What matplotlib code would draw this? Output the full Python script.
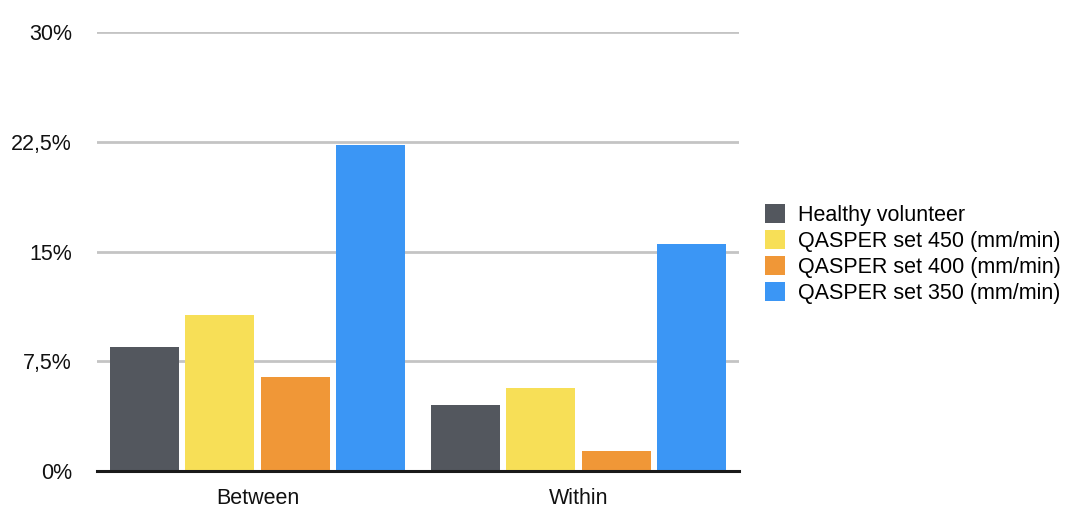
import matplotlib.pyplot as plt
import numpy as np

# ============================================================================ #
# DATA
# ============================================================================ #
groups = ["Between", "Within"]
series = ["Healthy volunteer", "QASPER set 450 (mm/min)",
          "QASPER set 400 (mm/min)", "QASPER set 350 (mm/min)"]
healthy = [8.5, 4.5]
set_450 = [10.65, 5.7]
set_400 = [6.45, 1.35]
set_350 = [22.25, 15.5]
y_ticks = [0, 7.5, 15, 22.5, 30]
y_tick_labels = ["0%", "7,5%", "15%", "22,5%", "30%"]

colours = ["#53575E", "#F7DF57", "#F09737", "#3B96F5"]

plt.rcParams["font.family"] = ["Liberation Sans", "DejaVu Sans"]


# ============================================================================ #
# PLOT
# ============================================================================ #
fig = plt.figure(figsize=(10.82, 5.26), dpi=100)
ax = fig.add_axes([97 / 1082, 1 - 471 / 526, 642 / 1082, 439 / 526])

x = np.arange(len(groups))
step = 0.235
width = 0.215
for i, (vals, name, col) in enumerate(zip([healthy, set_450, set_400, set_350],
                                          series, colours)):
    ax.bar(x + (i - 1.5) * step, vals, width, color=col, label=name, zorder=3)

ax.set_xlim(-0.5, 1.5)
ax.set_ylim(0, 30)
ax.set_yticks(y_ticks)
ax.set_yticklabels(y_tick_labels)
ax.set_xticks(x)
ax.set_xticklabels(groups)
ax.yaxis.grid(True, color="#C4C4C4", linewidth=2, zorder=0)
ax.tick_params(axis="both", length=0, labelsize=15.5, colors="#111111")
ax.tick_params(axis="y", pad=18)
ax.tick_params(axis="x", pad=12)
for side in ["top", "right", "left"]:
    ax.spines[side].set_visible(False)
ax.spines["bottom"].set_linewidth(2.2)
ax.spines["bottom"].set_color("#1A1A1A")
ax.spines["bottom"].set_zorder(4)

ax.legend(loc="center left", bbox_to_anchor=(765 / 1082, 1 - 254 / 526),
          bbox_transform=fig.transFigure, frameon=False, fontsize=15.5,
          handlelength=0.95, handleheight=0.95, handletextpad=0.6,
          labelspacing=0.2, borderaxespad=0, borderpad=0)

fig.savefig("out.png", dpi=100)
